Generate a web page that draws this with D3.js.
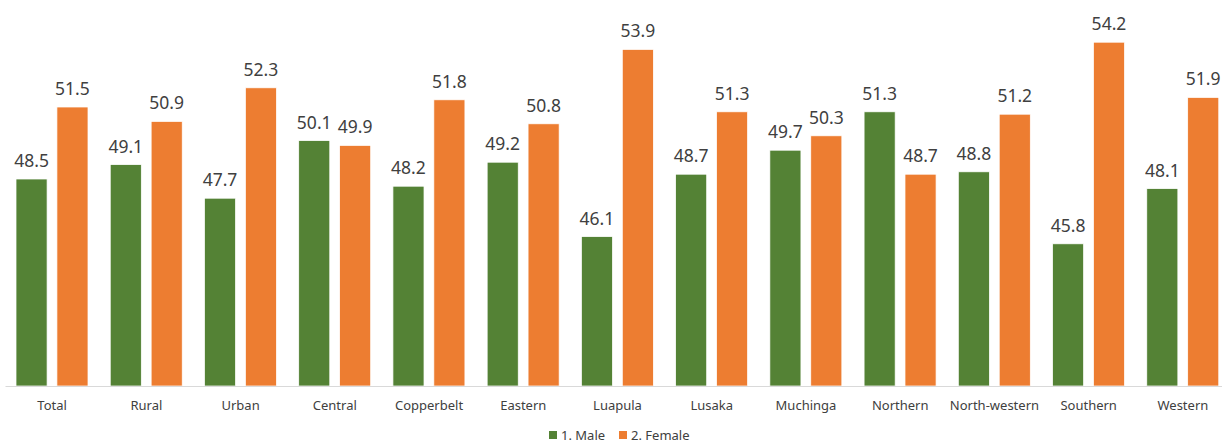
<!DOCTYPE html>
<html>
<head>
<meta charset="utf-8">
<script src="https://cdn.jsdelivr.net/npm/d3@7"></script>
<style>
  body { margin: 0; background: #fff; }
  svg { display: block; font-family: "Noto Sans", sans-serif; }
</style>
</head>
<body>
<svg width="1222" height="443"></svg>
<script>
// categories and the two series
const categories = ["Total", "Rural", "Urban", "Central", "Copperbelt", "Eastern", "Luapula",
  "Lusaka", "Muchinga", "Northern", "North-western", "Southern", "Western"];
const seriesNames = ["1. Male", "2. Female"];
const male = [48.5, 49.1, 47.7, 50.1, 48.2, 49.2, 46.1, 48.7, 49.7, 51.3, 48.8, 45.8, 48.1];
const female = [51.5, 50.9, 52.3, 49.9, 51.8, 50.8, 53.9, 51.3, 50.3, 48.7, 51.2, 54.2, 51.9];
const colors = ["#548235", "#ed7d31"];

const svg = d3.select("svg");
const textColor = "#404040";

// x: one band per category, the plot runs a little past the right edge like the original
const x0 = d3.scaleBand().domain(categories).range([5, 1230]).paddingInner(0).paddingOuter(0);
const x1 = d3.scaleBand().domain(seriesNames).range([11, 83]).paddingInner(0.24);

// y axis doesn't start at zero in the source chart
const y = d3.scaleLinear().domain([39.875, 56]).range([386, -1]);

const rows = categories.map((c, i) => ({ cat: c, values: [male[i], female[i]] }));

const groups = svg.selectAll(".grp")
  .data(rows)
  .enter().append("g")
  .attr("class", "grp")
  .attr("transform", d => `translate(${x0(d.cat)},0)`);

groups.selectAll("rect")
  .data(d => d.values.map((v, j) => ({ name: seriesNames[j], v: v, j: j })))
  .enter().append("rect")
  .attr("x", d => x1(d.name))
  .attr("width", x1.bandwidth())
  .attr("y", d => y(d.v))
  .attr("height", d => y.range()[0] - y(d.v))
  .attr("fill", d => colors[d.j])
  .attr("stroke", "#fff")
  .attr("stroke-width", 0.75);

// value labels above each bar
groups.selectAll("text")
  .data(d => d.values.map((v, j) => ({ name: seriesNames[j], v: v })))
  .enter().append("text")
  .attr("x", d => x1(d.name) + x1.bandwidth() / 2)
  .attr("y", d => y(d.v) - 12)
  .attr("text-anchor", "middle")
  .attr("font-size", 17.5)
  .attr("fill", textColor)
  .text(d => d.v.toFixed(1));

// bottom axis: just the line and the category names
const xAxis = svg.append("g")
  .attr("transform", `translate(0,${y.range()[0]})`)
  .call(d3.axisBottom(x0).tickSize(0).tickPadding(15));
xAxis.select(".domain").attr("stroke", "#d9d9d9").attr("stroke-width", 1);
xAxis.selectAll("text")
  .attr("font-size", 13)
  .attr("font-family", "Noto Sans, sans-serif")
  .attr("fill", textColor);

// legend at the bottom centre
const legend = svg.append("g").attr("transform", "translate(549,431)");
const legendX = [0, 70];
seriesNames.forEach((name, i) => {
  const item = legend.append("g").attr("transform", `translate(${legendX[i]},0)`);
  item.append("rect").attr("width", 8).attr("height", 8).attr("fill", colors[i]);
  item.append("text")
    .attr("x", 12)
    .attr("y", 8.5)
    .attr("font-size", 13)
    .attr("fill", textColor)
    .text(name);
});
</script>
</body>
</html>
